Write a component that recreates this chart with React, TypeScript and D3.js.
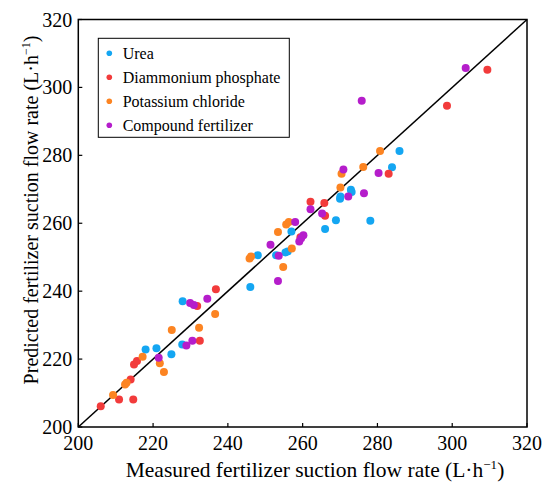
import { scaleLinear } from "d3";

type Pt = [number, number];

const urea: Pt[] = [
  [218.0, 222.8], [220.9, 223.2], [224.9, 221.4], [227.9, 237.0], [227.8, 224.3],
  [246.0, 241.2], [248.0, 250.6], [252.9, 250.6], [255.4, 251.4], [256.0, 251.7],
  [257.0, 257.6], [266.0, 258.3], [268.9, 260.9], [270.0, 267.2], [270.1, 267.9],
  [272.9, 269.9], [273.1, 269.2], [278.1, 260.7], [283.9, 276.5], [285.9, 281.3],
];
const dap: Pt[] = [
  [206.0, 206.1], [210.9, 208.1], [214.7, 208.1], [214.0, 214.0], [214.9, 218.4],
  [215.7, 219.4], [231.8, 235.6], [236.8, 240.6], [232.5, 225.4], [259.4, 255.9],
  [262.1, 266.3], [265.8, 266.0], [266.0, 262.2], [283.0, 274.6], [298.6, 294.6],
  [309.4, 305.2],
];
const kcl: Pt[] = [
  [209.3, 209.4], [212.5, 212.5], [212.9, 213.0], [217.2, 220.7], [221.8, 218.8],
  [222.9, 216.2], [225.0, 228.6], [232.3, 229.2], [236.6, 233.3], [245.8, 249.6],
  [246.2, 250.2], [254.8, 247.1], [257.1, 252.6], [253.4, 257.4], [255.6, 259.6],
  [256.3, 260.4], [270.1, 270.5], [270.4, 274.6], [276.2, 276.6], [280.7, 281.3],
];
const compound: Pt[] = [
  [221.5, 220.4], [229.9, 236.5], [230.9, 235.9], [234.5, 237.8], [228.9, 224.0],
  [230.5, 225.4], [253.4, 243.0], [253.6, 250.4], [251.4, 253.7], [258.0, 260.4],
  [259.1, 254.6], [260.2, 256.5], [259.6, 255.6], [262.1, 264.1], [265.2, 262.9],
  [272.2, 267.9], [270.9, 275.8], [276.4, 268.8], [280.3, 274.8], [275.8, 296.1],
  [303.6, 305.7],
];

const seriesNames = ["Urea", "Diammonium phosphate", "Potassium chloride", "Compound fertilizer"];
const seriesData = [urea, dap, kcl, compound];
const colors = ["#14a6f2", "#f23b3b", "#fc8422", "#b51dcb"];
const ticks = [200, 220, 240, 260, 280, 300, 320];

const font = "'Liberation Serif', 'Times New Roman', serif";

const App = () => {
  const width = 550;
  const height = 490;
  const margin = { top: 19.5, right: 23, bottom: 63, left: 78.3 };

  const x = scaleLinear()
    .domain([200, 320])
    .range([margin.left, width - margin.right]);
  const y = scaleLinear()
    .domain([200, 320])
    .range([height - margin.bottom, margin.top]);

  const [x0, x1] = x.range();
  const [y0, y1] = y.range();

  return (
    <svg
      width={width}
      height={height}
      style={{ position: "absolute", left: 0, top: 0, background: "#fff" }}
      fontFamily={font}
    >
      {/* 1:1 line */}
      <line x1={x(200)} y1={y(200)} x2={x(320)} y2={y(320)} stroke="#000" strokeWidth={1.5} />

      {seriesData.map((pts, i) => (
        <g key={seriesNames[i]} fill={colors[i]}>
          {pts.map(([m, p], j) => (
            <circle key={j} cx={x(m)} cy={y(p)} r={4} />
          ))}
        </g>
      ))}

      {/* frame */}
      <rect x={x0} y={y1} width={x1 - x0} height={y0 - y1} fill="none" stroke="#000" strokeWidth={1.5} />

      {/* ticks */}
      {ticks.map((t) => (
        <g key={`x${t}`}>
          <line x1={x(t)} x2={x(t)} y1={y0} y2={y0 - 4} stroke="#000" strokeWidth={1.2} />
          <text x={x(t)} y={y0 + 23} textAnchor="middle" fontSize={20}>
            {t}
          </text>
        </g>
      ))}
      {ticks.map((t) => (
        <g key={`y${t}`}>
          <line x1={x0} x2={x0 + 4} y1={y(t)} y2={y(t)} stroke="#000" strokeWidth={1.2} />
          <text x={x0 - 6} y={y(t)} dy="0.35em" textAnchor="end" fontSize={20}>
            {t}
          </text>
        </g>
      ))}

      {/* axis titles */}
      <text x={315} y={476.5} textAnchor="middle" fontSize={21.5}>
        Measured fertilizer suction flow rate (L·h
        <tspan fontSize={13} dy={-8}>−1</tspan>
        <tspan dy={8}>)</tspan>
      </text>
      <text
        transform={`translate(37.5, 210) rotate(-90)`}
        textAnchor="middle"
        fontSize={20}
      >
        Predicted fertilizer suction flow rate (L·h
        <tspan fontSize={12} dy={-8}>−1</tspan>
        <tspan dy={8}>)</tspan>
      </text>

      {/* legend */}
      <g>
        <rect x={98.3} y={38.3} width={191} height={99} fill="#fff" stroke="#000" strokeWidth={1} />
        {seriesNames.map((name, i) => (
          <g key={name} transform={`translate(0, ${53.3 + i * 24})`}>
            <circle cx={109.3} cy={0} r={2.8} fill={colors[i]} />
            <text x={122.7} y={0} dy="0.33em" fontSize={16}>
              {name}
            </text>
          </g>
        ))}
      </g>
    </svg>
  );
};

export default App;
